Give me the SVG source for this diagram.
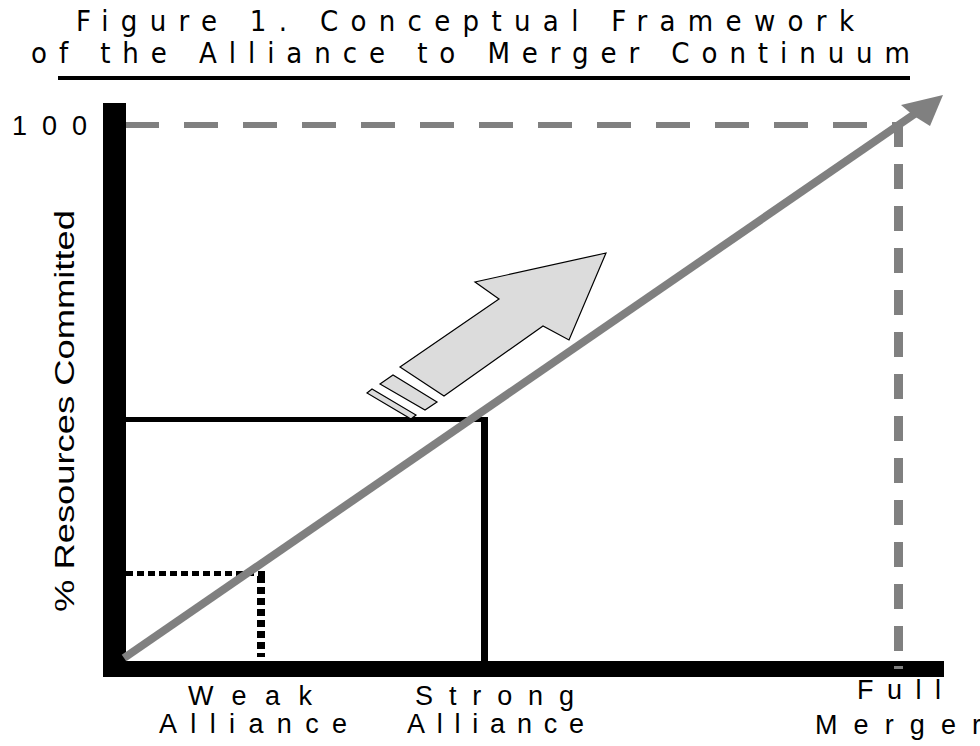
<svg xmlns="http://www.w3.org/2000/svg" width="980" height="746" viewBox="0 0 980 746">
<style>
.title{font-family:"Liberation Sans Narrow","DejaVu Sans Condensed","Liberation Sans",sans-serif;font-size:29px;fill:#000}
.lbl{font-family:"Liberation Sans",Arial,sans-serif;font-size:27px;fill:#000}
.dash-gray{stroke:#808080;fill:none}
</style>
<rect width="980" height="746" fill="#fff"/>
<g id="title">
<text class="title" x="76" y="31" textLength="778" lengthAdjust="spacing">Figure 1. Conceptual Framework</text>
<text class="title" x="31" y="63" textLength="879" lengthAdjust="spacing">of the Alliance to Merger Continuum</text>
<rect x="58" y="76" width="852" height="4" fill="#000"/>
</g>
<g id="guides">
<line class="dash-gray" x1="125" y1="125" x2="897" y2="125" stroke-width="6" stroke-dasharray="34 25"/>
<line class="dash-gray" x1="898.5" y1="122" x2="898.5" y2="670" stroke-width="9" stroke-dasharray="25 17"/>
</g>
<g id="axes">
<rect x="103" y="103" width="23" height="574" fill="#000"/>
<rect x="103" y="661" width="841" height="16" fill="#000"/>
<line x1="898.5" y1="666" x2="898.5" y2="669" stroke="#808080" stroke-width="9"/>
</g>
<g id="weak-alliance-marker">
<line x1="126" y1="573.5" x2="265" y2="573.5" stroke="#000" stroke-width="5" stroke-dasharray="7 4"/>
<line x1="261" y1="576" x2="261" y2="657" stroke="#000" stroke-width="8" stroke-dasharray="7 4"/>
</g>
<g id="strong-alliance-marker">
<line x1="126" y1="419.5" x2="488" y2="419.5" stroke="#000" stroke-width="5"/>
<line x1="484.5" y1="417" x2="484.5" y2="661" stroke="#000" stroke-width="7"/>
</g>
<g id="progress-arrow">
<polygon points="606,253 569,340 543,326 444,396 400,367 499,299 475,282" fill="#dcdcdc" stroke="#000" stroke-width="1.2" stroke-linejoin="miter"/>
<polygon points="380,384 393,375 437,402 425,410" fill="#dcdcdc" stroke="#000" stroke-width="1.2"/>
<polygon points="367,393 372,389 416,415 411,419" fill="#dcdcdc" stroke="#000" stroke-width="1.2"/>
</g>
<g id="connectors">
<line x1="124" y1="658" x2="916" y2="113" stroke="#808080" stroke-width="8"/>
<polygon points="943,95 901,105 914,116 930,126" fill="#808080"/>
</g>
<g id="labels">
<text class="lbl" x="12" y="135" font-size="28" textLength="75" lengthAdjust="spacing">100</text>
<text class="lbl" transform="translate(74,411) rotate(-90)" text-anchor="middle" font-size="28" textLength="402" lengthAdjust="spacingAndGlyphs">% Resources Committed</text>
<text class="lbl" x="188" y="705" textLength="124" lengthAdjust="spacing">Weak</text>
<text class="lbl" x="159" y="733" textLength="188" lengthAdjust="spacing">Alliance</text>
<text class="lbl" x="415" y="705" textLength="159" lengthAdjust="spacing">Strong</text>
<text class="lbl" x="407" y="733" textLength="177" lengthAdjust="spacing">Alliance</text>
<text class="lbl" x="857" y="699" textLength="84" lengthAdjust="spacing">Full</text>
<text class="lbl" x="815" y="734" textLength="166" lengthAdjust="spacing">Merger</text>
</g>
</svg>
